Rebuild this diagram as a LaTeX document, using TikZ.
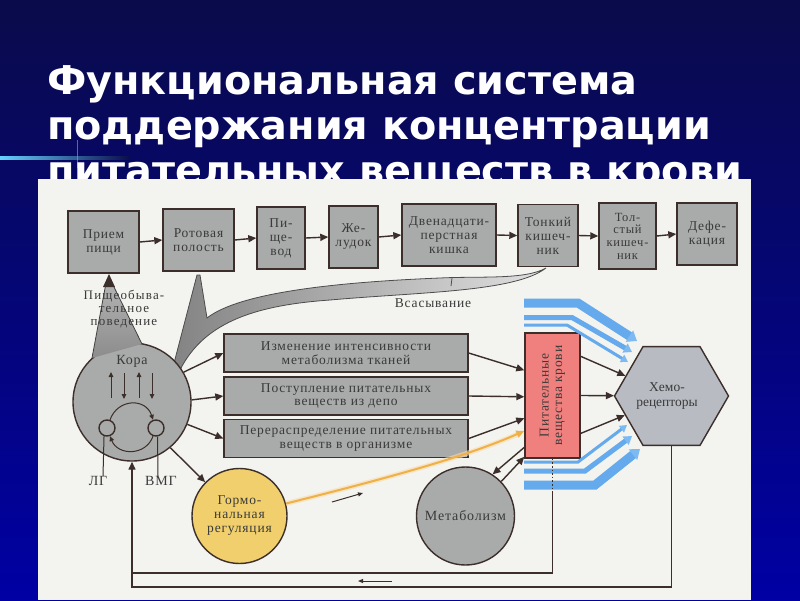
\documentclass[tikz,border=0pt]{standalone}
\usepackage{fontspec}
\setmainfont{Liberation Serif}
\newfontfamily\titlefont{DejaVu Sans}
\newfontfamily\spfont{Liberation Serif}[LetterSpace=6]
\newfontfamily\spwfont{Liberation Serif}[LetterSpace=9]
\usetikzlibrary{arrows.meta,shapes.geometric,calc}
\definecolor{bgtop}{HTML}{0A0B4A}
\definecolor{bgbot}{HTML}{0000A4}
\definecolor{panel}{HTML}{F3F3EF}
\definecolor{boxgray}{HTML}{A9ABAA}
\definecolor{edge}{HTML}{3C2E2A}
\definecolor{txt}{HTML}{3A3A3A}
\definecolor{redbox}{HTML}{F0807E}
\definecolor{yel}{HTML}{F0CF6C}
\definecolor{hexfill}{HTML}{B8BCC2}
\definecolor{blu}{HTML}{64AAEC}
\definecolor{bluhead}{HTML}{7DBAF2}
\definecolor{orng}{HTML}{F0B048}
\tikzset{
 lbl/.style={text=txt, font=\spfont\fontsize{13.5}{14}\selectfont, align=center, inner sep=0pt},
 stagebox/.style={lbl, draw=edge, line width=1.4pt, fill=boxgray, minimum height=62pt},
 midbox/.style={lbl, draw=edge, line width=1.4pt, fill=boxgray, minimum width=244pt, minimum height=38pt, font=\spfont\fontsize{13.5}{13.5}\selectfont},
 roundnode/.style={lbl, draw=edge, line width=1.4pt, circle, fill=boxgray},
 arr/.style={draw=edge, line width=1.4pt, -{Triangle[length=8pt,width=7pt]}},
 plainline/.style={draw=edge, line width=1.4pt},
 thinarr/.style={draw=edge, line width=1pt, -{Triangle[length=5pt,width=4.5pt]}},
 bluarr/.style={draw=blu, -{Triangle[length=9pt,width=13pt,color=bluhead]}},
 titletext/.style={anchor=base west, inner sep=0pt, text=white, font=\titlefont\bfseries\fontsize{39.7}{39.7}\selectfont},
}
\begin{document}
\begin{tikzpicture}[x=1pt,y=-1pt]
\useasboundingbox (0,0) rectangle (800,600);
% slide background
\shade[top color=bgtop, bottom color=bgbot] (0,0) rectangle (800,600);
\shade[left color=blue!30!cyan!60!white, right color=bgtop] (0,156) rectangle (130,159);
\draw[blue!40!white, opacity=0.6, line width=0.6pt] (77,140) -- (77,168);
% title
\node[titletext] (t1) at (47,94) {Функциональная система};
\node[titletext] (t2) at (47,139) {поддержания концентрации};
\node[titletext] (t3) at (47,184) {питательных веществ в крови};
% panel
\fill[panel] (38,179) rectangle (751,600);

% top row
\node[stagebox, minimum width=71pt] (b1) at (103.5,242) {Прием\\пищи};
\node[stagebox, minimum width=71pt] (b2) at (198.5,240) {Ротовая\\полость};
\node[stagebox, minimum width=48pt] (b3) at (281,238) {Пи-\\ще-\\вод};
\node[stagebox, minimum width=49pt] (b4) at (353.5,237) {Же-\\лудок};
\node[stagebox, minimum width=94pt] (b5) at (449,235) {Двенадцати-\\перстная\\кишка};
\node[stagebox, minimum width=60pt] (b6) at (548,235.5) {Тонкий\\кишеч-\\ник};
\node[stagebox, minimum width=57pt, minimum height=66pt, font=\spfont\fontsize{12.5}{12.7}\selectfont] (b7) at (627.5,236) {Тол-\\стый\\кишеч-\\ник};
\node[stagebox, minimum width=60pt] (b8) at (707,234) {Дефе-\\кация};
\foreach \a/\b in {b1/b2,b2/b3,b3/b4,b4/b5,b5/b6,b6/b7,b7/b8}{
  \draw[arr] (\a.east) -- (\b.west);
}

% absorption band (Всасывание) and mouth wedge into Кора
\shade[left color=black!50, right color=black!12, draw=black!70, line width=0.8pt]
  (197,275) -- (167,390) -- (157,389) -- (160,408) -- (178,399) -- (173,393) -- (180,370)
  .. controls (205,320) and (260,305) .. (330,300)
  .. controls (420,292) and (515,292) .. (546,268)
  .. controls (525,280) and (480,276) .. (440,278)
  .. controls (340,282) and (240,292) .. (207,318) -- (200,275) -- cycle;
\draw[black!70, line width=0.8pt] (452,278) -- (451,286);
\node[lbl] (vsas) at (433,303) {Всасывание};

% Кора
\node[roundnode, minimum size=118pt] (kora) at (132,402) {};
% feeding-behaviour wedge
\shade[top color=black!30, bottom color=black!45] (92,358) -- (106,283) -- (112,283) -- (142,344) -- cycle;
\draw[black!75, line width=0.8pt] (92,358) -- (106,283);
\draw[black!75, line width=0.8pt] (142,344) -- (112,283);
\fill[edge] (103,287) -- (109,274) -- (115,287) -- cycle;
\node[lbl, font=\spwfont\fontsize{13}{13}\selectfont] (pish) at (124,309) {Пищеобыва-\\тельное\\поведение};
\node[lbl, font=\spfont\fontsize{14}{14}\selectfont] (koralbl) at (132,361) {Кора};
\draw[thinarr] (111,398) -- (111,372);
\draw[thinarr] (124,373) -- (124,399);
\draw[thinarr] (139,398) -- (139,372);
\draw[thinarr] (152,373) -- (152,399);
\node[roundnode, minimum size=16pt] (lgc) at (107,428) {};
\node[roundnode, minimum size=16pt] (vmgc) at (156,428) {};
\draw[thinarr] (lgc.70) .. controls (118,398) and (146,398) .. (vmgc.110);
\draw[thinarr] (vmgc.-110) .. controls (146,456) and (118,456) .. (lgc.-70);
\node[lbl, font=\spfont\fontsize{14}{15}\selectfont, anchor=north] (lg) at (98,476) {ЛГ};
\node[lbl, font=\spfont\fontsize{14}{15}\selectfont, anchor=north] (vmg) at (161,476) {ВМГ};
\draw[edge, line width=1pt] (lgc.-110) -- (lg.north -| 103,0);
\draw[edge, line width=1pt] (vmgc.-80) -- (vmg.north -| 158,0);

% middle boxes
\node[midbox] (mA) at (346,353) {Изменение интенсивности\\метаболизма тканей};
\node[midbox] (mB) at (346,396) {Поступление питательных\\веществ  из депо};
\node[midbox] (mC) at (346,438.5) {Перераспределение питательных\\веществ в организме};
\draw[arr] (kora.30) -- (mA.west);
\draw[arr] (kora.2) -- (mB.west);
\draw[arr] (kora.-22) -- (mC.west);

% hormonal, metabolism
\node[lbl, circle, draw=edge, line width=1.4pt, fill=yel, minimum size=95pt] (horm) at (239.5,516) {Гормо-\\нальная\\регуляция};
\draw[arr] (kora.-50) -- (horm);
\node[roundnode, minimum size=98pt, font=\spfont\fontsize{14}{14}\selectfont] (metab) at (465.5,516) {Метаболизм};

% red box
\node[draw=edge, line width=1.4pt, fill=redbox, minimum width=55pt, minimum height=125pt] (red) at (552.5,395.5) {};
\node[lbl, rotate=90, font=\spfont\fontsize{13.5}{13.5}\selectfont] (redtxt) at (red) {Питательные\\вещества крови};
\draw[arr] (mA.east) -- ($(red.north west)!0.30!(red.south west)$);
\draw[arr] (mB.east) -- ($(red.north west)!0.51!(red.south west)$);
\draw[arr] (mC.east) -- ($(red.north west)!0.68!(red.south west)$);
\draw[orng!45, line width=5pt, opacity=0.6] (horm.15) .. controls (400,475) and (470,455) .. ($(red.north west)!0.78!(red.south west)+(-6,3)$);
\draw[draw=orng, line width=2pt, -{Triangle[length=8pt,width=7pt]}] (horm.15) .. controls (400,475) and (470,455) .. ($(red.north west)!0.78!(red.south west)$);
\draw[arr] ($(red.north west)!0.91!(red.south west)$) -- (metab.57);
\draw[arr] (metab.44) -- ($(red.north west)!0.985!(red.south west)$);
\draw[draw=edge, line width=1pt, -{Triangle[length=5pt,width=4pt]}] (332,502) -- (363,493);

% chemoreceptors
\node[regular polygon, regular polygon sides=6, minimum size=114pt, draw=edge, line width=1.4pt, fill=hexfill, inner sep=0pt] (hex) at (671.5,396) {};
\node[lbl, font=\rmfamily\fontsize{13.5}{15}\selectfont] (hextxt) at (667,396) {Хемо-\\рецепторы};
\draw[arr] ($(red.north east)!0.19!(red.south east)$) -- (hex);
\draw[arr] (red.east) -- (hex);
\draw[arr] ($(red.north east)!0.80!(red.south east)$) -- (hex);

% blue bands
\coordinate (bt1) at (524,303); \coordinate (bt2) at (524,317.5); \coordinate (bt3) at (524,325);
\coordinate (bb1) at (524,462); \coordinate (bb2) at (524,471); \coordinate (bb3) at (524,485);
\coordinate (et1) at (637,341); \coordinate (et2) at (632,352); \coordinate (et3) at (628,362);
\coordinate (eb1) at (627,425); \coordinate (eb2) at (632,436); \coordinate (eb3) at (640,449);
\draw[bluarr, line width=9pt] (bt1) -- (578,303) -- (et1);
\draw[bluarr, line width=5pt, -{Triangle[length=8pt,width=10pt,color=bluhead]}] (bt2) -- (572,317.5) -- (et2);
\draw[bluarr, line width=3pt, -{Triangle[length=7pt,width=8pt,color=bluhead]}] (bt3) -- (567,325) -- (et3);
\draw[bluarr, line width=3pt, -{Triangle[length=7pt,width=8pt,color=bluhead]}] (bb1) -- (578,462) -- (eb1);
\draw[bluarr, line width=5pt, -{Triangle[length=8pt,width=10pt,color=bluhead]}] (bb2) -- (585,471) -- (eb2);
\draw[bluarr, line width=9pt] (bb3) -- (595,485) -- (eb3);

% feedback loops
\coordinate (dotend) at (552.5,493);
\draw[edge, line width=1.6pt, dotted] (red.south) -- (dotend);
\draw[plainline] (dotend) -- (552.5,573) -- (132,573);
\draw[arr] (hex.south) -- ++(0,141) -| (kora.south);
\draw[draw=edge, line width=1pt, -{Triangle[length=5pt,width=4pt]}] (392,581) -- (358,581);
\end{tikzpicture}
\end{document}
